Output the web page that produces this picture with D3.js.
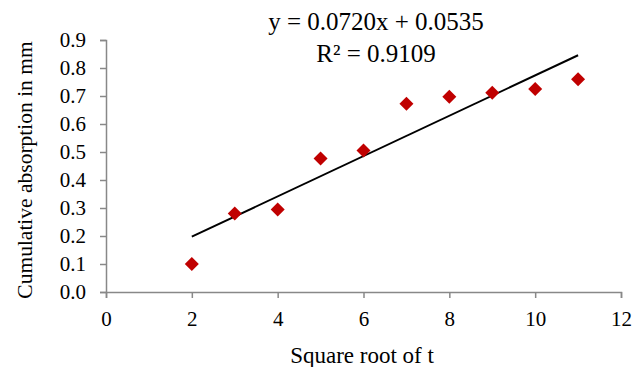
<!DOCTYPE html>
<html>
<head>
<meta charset="utf-8">
<script src="https://cdn.jsdelivr.net/npm/d3@7"></script>
<style>
  body { margin: 0; background: #fff; }
  text { font-family: "Liberation Serif", "Times New Roman", serif; fill: #000; }
</style>
</head>
<body>
<div id="chart"></div>
<script>
const width = 643;
const height = 367;

// data
const sqrtT = [2, 3, 4, 5, 6, 7, 8, 9, 10, 11];
const absorption = [0.10, 0.28, 0.295, 0.477, 0.505, 0.672, 0.697, 0.712, 0.725, 0.76];
const xTicks = [0, 2, 4, 6, 8, 10, 12];
const yTicks = [0, 0.1, 0.2, 0.3, 0.4, 0.5, 0.6, 0.7, 0.8, 0.9];
const slope = 0.0720;
const intercept = 0.0535;

const svg = d3.select("#chart").append("svg")
  .attr("width", width)
  .attr("height", height);

const xScale = d3.scaleLinear().domain([0, 12]).range([106, 621]);
const yScale = d3.scaleLinear().domain([0, 0.9]).range([292, 40]);

// axes
const xAxis = d3.axisBottom(xScale).tickValues(xTicks).tickSize(6).tickSizeOuter(6).tickPadding(13)
  .tickFormat(d3.format("d"));
const yAxis = d3.axisLeft(yScale).tickValues(yTicks).tickSize(6).tickSizeOuter(6).tickPadding(14)
  .tickFormat(d3.format(".1f"));

const gx = svg.append("g").attr("transform", "translate(0," + yScale(0) + ")").call(xAxis);
const gy = svg.append("g").attr("transform", "translate(" + xScale(0) + ",0)").call(yAxis);
[gx, gy].forEach(g => {
  g.selectAll("path, line").attr("stroke", "#888").attr("stroke-width", 1.5);
  g.selectAll("text").style("font-family", "Liberation Serif, serif").style("font-size", "21px").attr("fill", "#000");
});

// trend line
const xr = d3.extent(sqrtT);
svg.append("line")
  .attr("x1", xScale(xr[0])).attr("y1", yScale(slope * xr[0] + intercept))
  .attr("x2", xScale(xr[1])).attr("y2", yScale(slope * xr[1] + intercept))
  .attr("stroke", "#000").attr("stroke-width", 2);

// points
svg.selectAll(".pt")
  .data(sqrtT)
  .enter()
  .append("path")
  .attr("class", "pt")
  .attr("d", d3.symbol().type(d3.symbolSquare).size(98))
  .attr("transform", (d, i) => "translate(" + xScale(d) + "," + yScale(absorption[i]) + ") rotate(45)")
  .attr("fill", "#C00000");

// equation
svg.append("text").attr("x", 376).attr("y", 30).attr("text-anchor", "middle")
  .style("font-size", "25px").text("y = 0.0720x + 0.0535");
svg.append("text").attr("x", 376).attr("y", 62).attr("text-anchor", "middle")
  .style("font-size", "25px").text("R² = 0.9109");

// axis titles
svg.append("text").attr("x", 362).attr("y", 363).attr("text-anchor", "middle")
  .style("font-size", "23px").text("Square root of t");
svg.append("text").attr("transform", "translate(32,170) rotate(-90)").attr("text-anchor", "middle")
  .style("font-size", "21.5px").text("Cumulative absorption in mm");
</script>
</body>
</html>
